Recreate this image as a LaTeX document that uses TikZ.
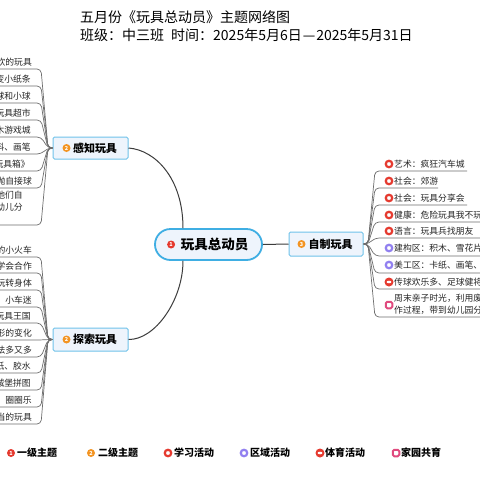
\documentclass[tikz,border=0pt]{standalone}
\usepackage{fontspec}
\setmainfont{Noto Sans CJK SC}
\definecolor{nodeblue}{HTML}{3FAEE3}
\definecolor{nodefill}{HTML}{EEF4FC}
\definecolor{linegray}{HTML}{6E6E6E}
\definecolor{darkline}{HTML}{3C3C3C}
\definecolor{iconred}{HTML}{E53A2F}
\definecolor{iconorange}{HTML}{F39422}
\definecolor{iconpurple}{HTML}{9180F0}
\definecolor{iconpink}{HTML}{E04A7E}

\tikzset{
  titletext/.style={anchor=west, inner sep=0pt, font=\fontsize{14}{16}\selectfont},
  rootnode/.style={rectangle, rounded corners=15.5pt, draw=nodeblue, line width=1.8pt,
    fill=nodefill, minimum width=107pt, minimum height=31pt, inner sep=0pt,
    font=\fontsize{13.5}{16}\selectfont\bfseries},
  topicnode/.style={rectangle, rounded corners=1.5pt, draw=nodeblue!75, line width=1pt,
    fill=nodefill, inner sep=0pt, font=\fontsize{11}{13}\selectfont\bfseries},
  leaftext/.style={inner sep=0pt, font=\fontsize{8.8}{12}\selectfont, text=black!85},
  leafline/.style={draw=linegray, line width=0.7pt, rounded corners=4pt},
  mainline/.style={draw=darkline, line width=1pt},
  numdot/.style={circle, fill=#1, inner sep=0pt, minimum size=8pt, text=white,
    font=\fontsize{5.5}{5.5}\selectfont\bfseries},
  ringdot/.style={circle, draw=#1, line width=2.2pt, fill=white, inner sep=0pt, minimum size=6.5pt},
  sportdot/.style={circle, fill=iconred, inner sep=0pt, minimum size=9pt,
    path picture={\fill[white] (path picture bounding box.center) ellipse (2.4pt and 1.3pt);}},
  homedot/.style={rectangle, rounded corners=1.5pt, draw=iconpink, line width=2pt, fill=white,
    inner sep=0pt, minimum size=6.5pt},
  legendtext/.style={anchor=west, inner sep=0pt, font=\fontsize{10}{12}\selectfont\bfseries},
}

\begin{document}
\begin{tikzpicture}[x=1pt, y=-1pt]
  % page
  \fill[white] (0,0) rectangle (480,480);
  \useasboundingbox (0,0) rectangle (480,480);
  \clip (0,0) rectangle (480,480);

  % title
  \node[titletext] (title) at (80,17) {五月份《玩具总动员》主题网络图};
  \node[titletext] (subtitle) at (80,35) {班级：中三班\hspace{7pt}时间：2025年5月6日\hspace{1pt}—\hspace{1pt}2025年5月31日};

  % central topic
  \node[rootnode] (root) at (208.5,244.5) {\hspace{12pt}玩具总动员};
  \node[numdot=iconred] (n1) at ([xshift=17pt]root.west) {1};

  % main topics
  \node[topicnode, minimum width=75pt, minimum height=22pt] (gz) at (90.5,148) {\hspace{9pt}感知玩具};
  \node[numdot=iconorange] (n2) at ([xshift=14pt]gz.west) {2};
  \node[topicnode, minimum width=75pt, minimum height=23pt] (tz) at (90.5,339.5) {\hspace{9pt}探索玩具};
  \node[numdot=iconorange] (n3) at ([xshift=14pt]tz.west) {2};
  \node[topicnode, minimum width=74pt, minimum height=24pt] (zz) at (326,244) {\hspace{9pt}自制玩具};
  \node[numdot=iconorange] (n4) at ([xshift=13pt]zz.west) {3};

  % branches from the centre
  \draw[mainline] (gz.east) .. controls (155,150) and (183,178) .. ([xshift=-25.5pt]root.north);
  \draw[mainline] ([xshift=-25.5pt]root.south) .. controls (183,300) and (155,340) .. (tz.east);
  \draw[mainline] (root.east) -- (zz.west);

  % leaves of gz
  \node[leaftext, anchor=east] (g1) at (32,62) {欢的玩具};
  \draw[leafline] (gz.west) -- (48,148) -- (41,69) -- (-5,69);
  \node[leaftext, anchor=east] (g2) at (31,79) {变小纸条};
  \draw[leafline] (gz.west) -- (48,148) -- (41,86) -- (-5,86);
  \node[leaftext, anchor=east] (g3) at (31,96) {球和小球};
  \draw[leafline] (gz.west) -- (48,148) -- (41,103) -- (-5,103);
  \node[leaftext, anchor=east] (g4) at (31,113) {玩具超市};
  \draw[leafline] (gz.west) -- (48,148) -- (41,120) -- (-5,120);
  \node[leaftext, anchor=east] (g5) at (31,130) {木游戏城};
  \draw[leafline] (gz.west) -- (48,148) -- (41,137) -- (-5,137);
  \node[leaftext, anchor=east] (g6) at (31,147) {料、画笔};
  \draw[leafline] (gz.west) -- (48,148) -- (41,154) -- (-5,154);
  \node[leaftext, anchor=east] (g7) at (30,164) {玩具箱》};
  \draw[leafline] (gz.west) -- (48,148) -- (41,171) -- (-5,171);
  \node[leaftext, anchor=east] (g8) at (32,181) {抛自接球};
  \draw[leafline] (gz.west) -- (48,148) -- (41,188) -- (-5,188);
  \node[leaftext, anchor=east, align=left] (g9) at (23,201) {他们自\\幼儿分};
  \draw[leafline] (gz.west) -- (48,148) -- (41,225) -- (-5,225);

  % leaves of tz
  \node[leaftext, anchor=east] (t1) at (32,250) {的小火车};
  \draw[leafline] (tz.west) -- (48,339.5) -- (41,257) -- (-5,257);
  \node[leaftext, anchor=east] (t2) at (32,266) {学会合作};
  \draw[leafline] (tz.west) -- (48,339.5) -- (41,273) -- (-5,273);
  \node[leaftext, anchor=east] (t3) at (32,283) {玩转身体};
  \draw[leafline] (tz.west) -- (48,339.5) -- (41,290) -- (-5,290);
  \node[leaftext, anchor=east] (t4) at (32,300) {小车迷};
  \draw[leafline] (tz.west) -- (48,339.5) -- (41,307) -- (-5,307);
  \node[leaftext, anchor=east] (t5) at (31,316) {玩具王国};
  \draw[leafline] (tz.west) -- (48,339.5) -- (41,323) -- (-5,323);
  \node[leaftext, anchor=east] (t6) at (32,333) {形的变化};
  \draw[leafline] (tz.west) -- (48,339.5) -- (41,340) -- (-5,340);
  \node[leaftext, anchor=east] (t7) at (32,350) {法多又多};
  \draw[leafline] (tz.west) -- (48,339.5) -- (41,357) -- (-5,357);
  \node[leaftext, anchor=east] (t8) at (31,366) {纸、胶水};
  \draw[leafline] (tz.west) -- (48,339.5) -- (41,373) -- (-5,373);
  \node[leaftext, anchor=east] (t9) at (31,383) {城堡拼图};
  \draw[leafline] (tz.west) -- (48,339.5) -- (41,390) -- (-5,390);
  \node[leaftext, anchor=east] (t10) at (32,400) {圈圈乐};
  \draw[leafline] (tz.west) -- (48,339.5) -- (41,407) -- (-5,407);
  \node[leaftext, anchor=east] (t11) at (32,417) {当的玩具};
  \draw[leafline] (tz.west) -- (48,339.5) -- (41,424) -- (-5,424);

  % leaves of zz
  \node[ringdot=iconred] (z1i) at (389,164) {};
  \node[leaftext, anchor=west] (z1) at (394,164) {艺术：疯狂汽车城};
  \draw[leafline] (zz.east) -- (368,244) -- (375,171) -- (467,171);
  \node[ringdot=iconred] (z2i) at (389,181) {};
  \node[leaftext, anchor=west] (z2) at (394,181) {社会：郊游};
  \draw[leafline] (zz.east) -- (368,244) -- (375,188) -- (438,188);
  \node[ringdot=iconred] (z3i) at (389,198) {};
  \node[leaftext, anchor=west] (z3) at (394,198) {社会：玩具分享会};
  \draw[leafline] (zz.east) -- (368,244) -- (375,205) -- (467,205);
  \node[ringdot=iconred] (z4i) at (389,215) {};
  \node[leaftext, anchor=west] (z4) at (394,215) {健康：危险玩具我不玩};
  \draw[leafline] (zz.east) -- (368,244) -- (375,222) -- (485,222);
  \node[ringdot=iconred] (z5i) at (389,231) {};
  \node[leaftext, anchor=west] (z5) at (394,231) {语言：玩具兵找朋友};
  \draw[leafline] (zz.east) -- (368,244) -- (375,238) -- (485,238);
  \node[ringdot=iconpurple] (z6i) at (389,248) {};
  \node[leaftext, anchor=west] (z6) at (394,248) {建构区：积木、雪花片};
  \draw[leafline] (zz.east) -- (368,244) -- (375,256) -- (485,256);
  \node[ringdot=iconpurple] (z7i) at (389,265) {};
  \node[leaftext, anchor=west] (z7) at (394,265) {美工区：卡纸、画笔、};
  \draw[leafline] (zz.east) -- (368,244) -- (375,273) -- (485,273);
  \node[sportdot] (z8i) at (389,282) {};
  \node[leaftext, anchor=west] (z8) at (394,282) {传球欢乐多、足球健将};
  \draw[leafline] (zz.east) -- (368,244) -- (375,289) -- (485,289);
  \node[homedot] (z9i) at (389,305) {};
  \node[leaftext, anchor=west, align=left] (z9) at (394,304.5) {周末亲子时光，利用废\\作过程，带到幼儿园分};
  \draw[leafline] (zz.east) -- (368,244) -- (375,317) -- (485,317);

  % legend
  \node[numdot=iconred] (k1i) at (11,453) {1};
  \node[legendtext] (k1) at (17,453) {一级主题};
  \node[numdot=iconorange] (k2i) at (91,453) {2};
  \node[legendtext] (k2) at (98,453) {二级主题};
  \node[ringdot=iconred] (k3i) at (168,453) {};
  \node[legendtext] (k3) at (174,453) {学习活动};
  \node[ringdot=iconpurple] (k4i) at (244,453) {};
  \node[legendtext] (k4) at (250,453) {区域活动};
  \node[sportdot] (k5i) at (320,453) {};
  \node[legendtext] (k5) at (325,453) {体育活动};
  \node[homedot] (k6i) at (396,453) {};
  \node[legendtext] (k6) at (401,453) {家园共育};
\end{tikzpicture}
\end{document}
